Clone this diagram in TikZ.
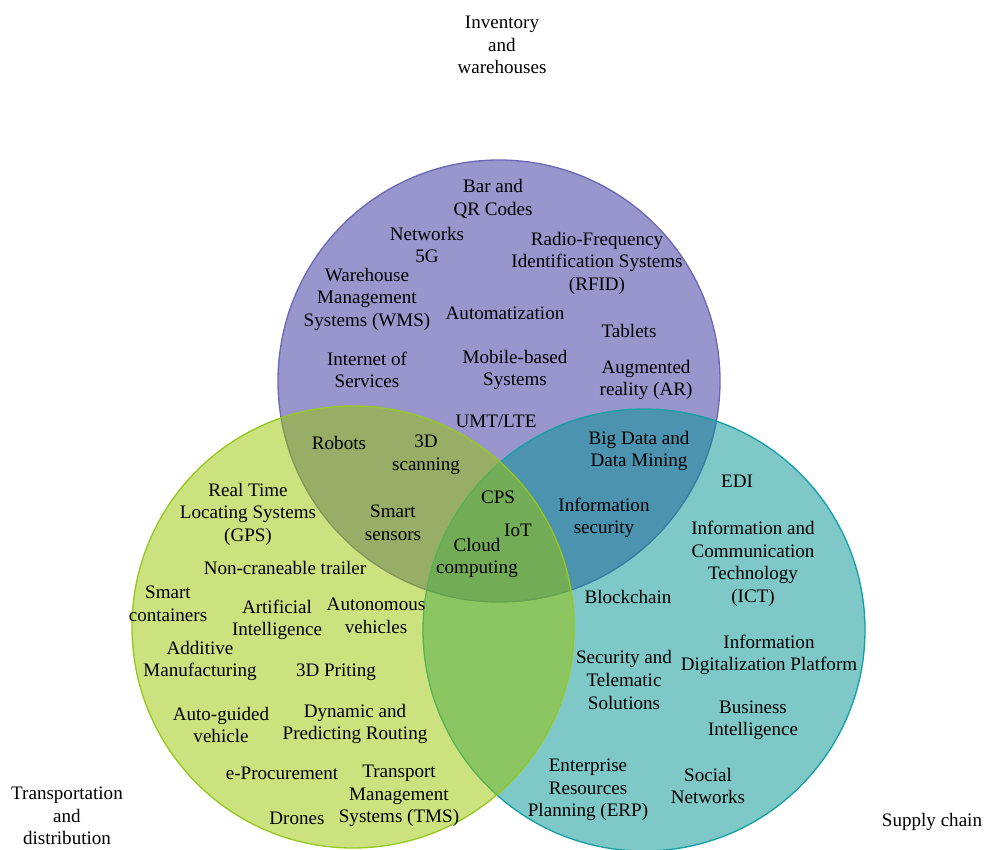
\documentclass[tikz,border=0pt]{standalone}
\usepackage{fontspec}
\setmainfont{Liberation Serif}
\usetikzlibrary{positioning}

\definecolor{invfill}{RGB}{152,150,204}
\definecolor{invline}{RGB}{108,104,182}
\definecolor{supfill}{RGB}{0,145,145}
\definecolor{supline}{RGB}{20,160,165}
\definecolor{trafill}{RGB}{153,197,0}
\definecolor{traline}{RGB}{150,200,30}

\begin{document}
\begin{tikzpicture}[x=0.75pt, y=-0.75pt, font=\fontsize{14.3}{16.9}\selectfont, every node/.append style={align=center, inner sep=1pt}]

\useasboundingbox (0,0) rectangle (994,849);

\fill[invfill] (499,381) circle (221);
\draw[invline, line width=1pt] (499,381) circle (221);
\fill[supfill, fill opacity=0.5] (644,630) circle (221);
\draw[supline, line width=1pt] (644,630) circle (221);
\fill[trafill, fill opacity=0.5] (353,627) circle (221);
\draw[traline, line width=1pt] (353,627) circle (221);

\node (inv) at (502,45) {Inventory\\and\\warehouses};
\node (trans) at (67,816) {Transportation\\and\\distribution};
\node (supply) at (932,822) {Supply chain};

\node (barqr) at (493,199) {Bar and\\QR Codes};
\node (net5g) at (427,245) {Networks\\5G};
\node (rfid) at (597,263) {Radio-Frequency\\Identification Systems\\(RFID)};
\node (wms) at (367,299) {Warehouse\\Management\\Systems (WMS)};
\node (autom) at (505,313) {Automatization};
\node (tablets) at (629,331) {Tablets};
\node (ios) at (367,370) {Internet of\\Services};
\node (mobile) at (515,370) {Mobile-based\\Systems};
\node (ar) at (646,380) {Augmented\\reality (AR)};
\node (umt) at (496,421) {UMT/LTE};

\node (robots) at (339,443) {Robots};
\node (scan3d) at (426,455) {3D\\scanning};
\node (smartsens) at (393,523) {Smart\\sensors};

\node (cps) at (498,497) {CPS};
\node (iot) at (518,530) {IoT};
\node (cloud) at (477,558) {Cloud\\computing};

\node (bigdata) at (639,451) {Big Data and\\Data Mining};
\node (infosec) at (604,518) {Information\\security};

\node (rtls) at (248,514) {Real Time\\Locating Systems\\(GPS)};
\node (trailer) at (285,568) {Non-craneable trailer};
\node (smartcont) at (168,604) {Smart\\containers};
\node (ai) at (277,620) {Artificial\\Intelligence};
\node (autoveh) at (376,616) {Autonomous\\vehicles};
\node (additive) at (200,661) {Additive\\Manufacturing};
\node (print3d) at (336,672) {3D Priting};
\node (agv) at (221,725) {Auto-guided\\vehicle};
\node (routing) at (355,724) {Dynamic and\\Predicting Routing};
\node (eproc) at (282,773) {e-Procurement};
\node (tms) at (399,796) {Transport\\Management\\Systems (TMS)};
\node (drones) at (297,818) {Drones};

\node (edi) at (737,481) {EDI};
\node (ict) at (753,564) {Information and\\Communication\\Technology\\(ICT)};
\node (blockchain) at (628,597) {Blockchain};
\node (idp) at (769,655) {Information\\Digitalization Platform};
\node (telematic) at (624,680) {Security and\\Telematic\\Solutions};
\node (bi) at (753,720) {Business\\Intelligence};
\node (erp) at (588,790) {Enterprise\\Resources\\Planning (ERP)};
\node (social) at (708,786) {Social\\Networks};

\end{tikzpicture}
\end{document}
